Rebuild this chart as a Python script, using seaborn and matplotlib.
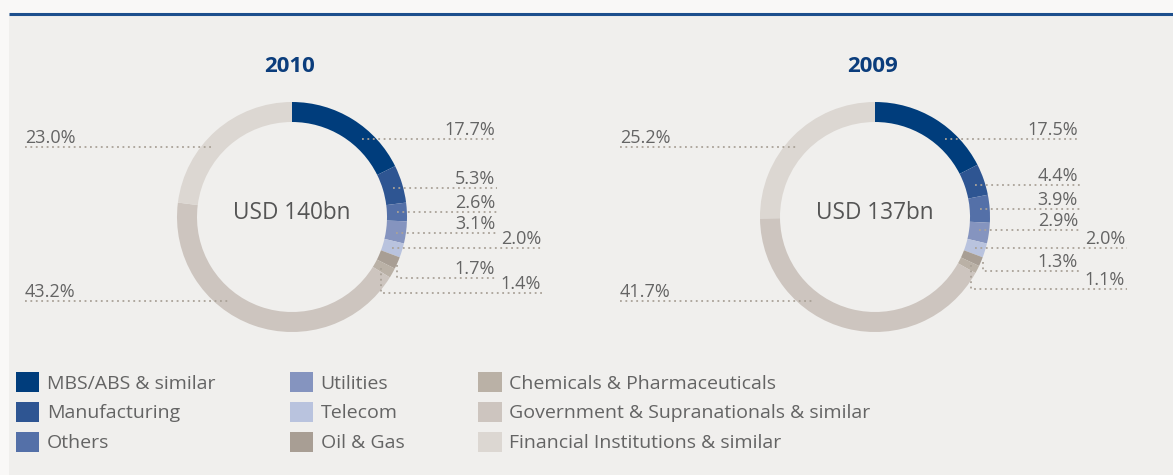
import math
import matplotlib
matplotlib.use("Agg")
import matplotlib.pyplot as plt
from matplotlib.patches import Rectangle, Patch
import seaborn as sns

# data
categories = ["MBS/ABS & similar", "Manufacturing", "Others", "Utilities", "Telecom",
              "Oil & Gas", "Chemicals & Pharmaceuticals",
              "Government & Supranationals & similar", "Financial Institutions & similar"]
share_2010 = [17.7, 5.3, 2.6, 3.1, 2.0, 1.7, 1.4, 43.2, 23.0]
share_2009 = [17.5, 4.4, 3.9, 2.9, 2.0, 1.3, 1.1, 41.7, 25.2]
years = ["2010", "2009"]
totals = ["USD 140bn", "USD 137bn"]

colors = sns.color_palette(["#003d7c", "#2e5592", "#5470a8", "#8594bf", "#b9c3de",
                            "#a89e94", "#bab1a6", "#cdc5bf", "#dcd7d2"])

sns.set_theme(style="white")
plt.rcParams["font.family"] = ["Open Sans", "DejaVu Sans"]

W, H = 1173, 475
TXT = "#646464"
DOT = "#aaa298"


def Y(y):
    return H - y


fig = plt.figure(figsize=(W / 100, H / 100), dpi=100)
fig.patch.set_facecolor("#f9f8f7")
ax = fig.add_axes([0, 0, 1, 1])
ax.set_axis_off()

ax.add_patch(Rectangle((9, 0), W - 9, Y(14), facecolor="#f0efed", edgecolor="none"))
ax.plot([9, W], [Y(13.5), Y(13.5)], color="#1d4f8d", lw=2.2, solid_capstyle="butt")

# label layout (pixel positions, top-down)
layouts = [
    dict(cx=292, cy=217, left_x=25, near_x=497, far_x=543,
         label_y=[139, 188, 212, 233, 248, 278, 293, 301, 147],
         far=[4, 6], elbow={5: (397, 265), 6: (381, 268)}),
    dict(cx=875, cy=217, left_x=620, near_x=1080, far_x=1127,
         label_y=[139, 185, 209, 230, 248, 271, 289, 301, 147],
         far=[4, 6], elbow={5: (983, 262), 6: (971, 265)}),
]

R, RING, RMID = 115, 20, 105

for values, year, total, lay in zip([share_2010, share_2009], years, totals, layouts):
    cx, cy = lay["cx"], lay["cy"]
    ax.pie(values, colors=colors, center=(cx, Y(cy)), radius=R, startangle=90,
           counterclock=False, frame=True,
           wedgeprops=dict(width=RING, linewidth=0))
    ax.text(cx - 2, Y(66), year, ha="center", va="center", fontsize=16,
            fontweight="bold", color="#0b3d7c")
    ax.text(cx, Y(213), total, ha="center", va="center", fontsize=16.3, color="#555555")

    for i, v in enumerate(values):
        ly = lay["label_y"][i]
        label = f"{v:.1f}%"
        if i >= 7:
            x0 = lay["left_x"]
            x1 = cx - math.sqrt(RMID ** 2 - (cy - ly) ** 2)
            ax.plot([x0, x1], [Y(ly), Y(ly)], color=DOT, lw=1.3, ls=(0, (1, 2)))
            ax.text(x0, Y(ly - 4), label, ha="left", va="baseline", fontsize=13, color=TXT)
            continue
        x_end = lay["far_x"] if i in lay["far"] else lay["near_x"]
        if i in lay["elbow"]:
            ex, ey = lay["elbow"][i]
            ax.plot([ex, ex, x_end], [Y(ey), Y(ly), Y(ly)], color=DOT, lw=1.3, ls=(0, (1, 2)))
        else:
            x0 = cx + math.sqrt(RMID ** 2 - (cy - ly) ** 2)
            ax.plot([x0, x_end], [Y(ly), Y(ly)], color=DOT, lw=1.3, ls=(0, (1, 2)))
        ax.text(x_end - 2, Y(ly - 4), label, ha="right", va="baseline", fontsize=13, color=TXT)

ax.set_xlim(0, W)
ax.set_ylim(0, H)
ax.set_aspect("auto")

handles = [Patch(facecolor=c, edgecolor="none", label=n) for c, n in zip(colors, categories)]
fig.legend(handles=handles, ncol=3, loc="upper left", bbox_to_anchor=(16 / W, 1 - 372 / H),
           frameon=False, fontsize=14, labelcolor=TXT, borderpad=0, borderaxespad=0,
           handlelength=1.2, handleheight=1.2, handletextpad=0.4, columnspacing=3.8,
           labelspacing=0.48)

fig.savefig("out.png", dpi=100, facecolor=fig.get_facecolor())
